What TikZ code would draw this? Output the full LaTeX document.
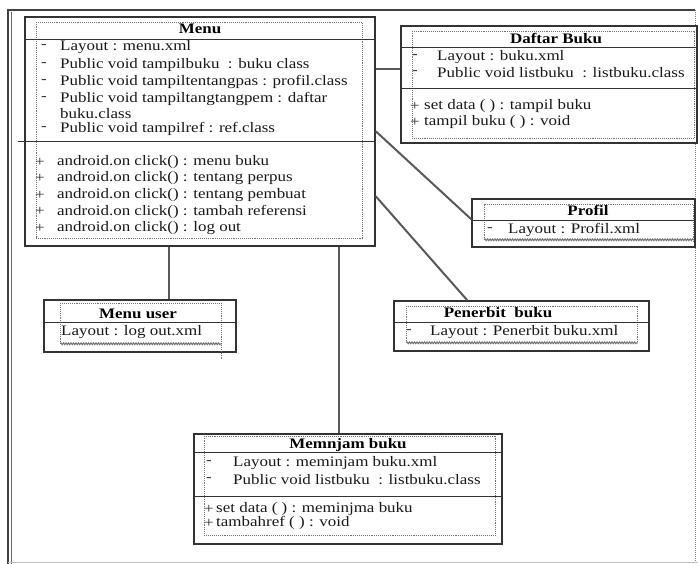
\documentclass[tikz,border=0pt]{standalone}
\usepackage{fontspec}
\setmainfont{Liberation Serif}[FakeStretch=1.17]
\usetikzlibrary{decorations.pathmorphing,calc}
\begin{document}
\begin{tikzpicture}[x=1pt,y=-1pt,
  box/.style={draw=black!80, line width=1.5pt, inner sep=0pt, fill=white},
  inner/.style={draw=black!55, densely dotted, line width=1.1pt},
  sep/.style={draw=black!80, line width=1.4pt},
  conn/.style={draw=black!65, line width=2pt},
  txt/.style={anchor=west, inner sep=0pt, font=\fontsize{14.5}{16}\selectfont, text=black!90},
  ttl/.style={anchor=center, inner sep=0pt, font=\fontsize{14.5}{16}\selectfont\bfseries, text=black},
  mk/.style={anchor=center, inner sep=0pt, font=\fontsize{14.5}{16}\selectfont, text=black!80},
  wavy/.style={draw=black!55, decorate, decoration={snake, amplitude=0.9pt, segment length=2.5pt}, line width=1pt}]

\useasboundingbox (0,0) rectangle (698,564);

% outer frame
\draw[black!75, line width=1.2pt] (8,564) -- (8,10) -- (695,10);
\draw[black!60, line width=1pt] (11,564) -- (11,12);
\draw[black!50, densely dotted, line width=1pt] (695,10) -- (695,564);
\draw[black!25, line width=0.8pt] (8,562) -- (698,562);

% boxes (positions)
\node[box, minimum width=350pt, minimum height=229pt] (menu) at (200,131.5) {};
\node[box, minimum width=296pt, minimum height=117pt] (daftar) at (549,84.5) {};
\node[box, minimum width=223pt, minimum height=48pt] (profil) at (583.5,223) {};
\node[box, minimum width=192pt, minimum height=52pt] (muser) at (140,326) {};
\node[box, minimum width=255pt, minimum height=50pt] (penerbit) at (521.5,326) {};
\node[box, minimum width=308pt, minimum height=110pt] (pinjam) at (348,489) {};

% connectors
\draw[conn] ($(menu.north east)+(0,53)$) -- ($(daftar.north west)+(0,44)$);
\draw[conn] ($(menu.north east)+(0,115)$) -- ($(profil.north west)+(0,21)$);
\draw[conn] ($(menu.north east)+(0,180)$) -- ($(penerbit.north west)+(74,0)$);
\draw[conn] ($(menu.south west)+(145,0)$) -- ($(muser.north west)+(126,0)$);
\draw[conn] ($(menu.south west)+(315,0)$) -- ($(pinjam.north west)+(146,0)$);

% ---- Menu
\draw[inner] ($(menu.north west)+(12,6)$) rectangle ($(menu.south east)+(-13,-8)$);
\draw[sep] ($(menu.north west)+(0,23)$) -- ($(menu.north east)+(0,23)$);
\draw[sep] ($(menu.north west)+(-6,125)$) -- ($(menu.north east)+(0,125)$);
\node[ttl] (menuT) at (200,29) {Menu};
\node[mk] (ma1) at (44,47) {-};
\node[txt] (ta1) at (60,47) {Layout : menu.xml};
\node[mk] (ma2) at (44,65) {-};
\node[txt] (ta2) at (60,65) {Public void tampilbuku \ : buku class};
\node[mk] (ma3) at (44,82) {-};
\node[txt] (ta3) at (60,82) {Public void tampiltentangpas : profil.class};
\node[mk] (ma4) at (44,99) {-};
\node[txt] (ta4) at (60,99) {Public void tampiltangtangpem : daftar};
\node[txt] (ta5) at (60,114) {buku.class};
\node[mk] (ma6) at (44,129) {-};
\node[txt] (ta6) at (60,129) {Public void tampilref : ref.class};
\node[mk] (mm1) at (40,162) {+};
\node[txt] (tm1) at (57,162) {android.on click() : menu buku};
\node[mk] (mm2) at (40,178.5) {+};
\node[txt] (tm2) at (57,178.5) {android.on click() : tentang perpus};
\node[mk] (mm3) at (40,195) {+};
\node[txt] (tm3) at (57,195) {android.on click() : tentang pembuat};
\node[mk] (mm4) at (40,211.5) {+};
\node[txt] (tm4) at (57,211.5) {android.on click() : tambah referensi};
\node[mk] (mm5) at (40,228) {+};
\node[txt] (tm5) at (57,228) {android.on click() : log out};

% ---- Daftar Buku
\draw[inner] ($(daftar.north west)+(12,6)$) rectangle ($(daftar.south east)+(-3,-5)$);
\draw[sep] ($(daftar.north west)+(0,22)$) -- ($(daftar.north east)+(0,22)$);
\draw[sep] ($(daftar.north west)+(0,63)$) -- ($(daftar.north east)+(0,63)$);
\node[ttl] (daftarT) at (556,38) {Daftar Buku};
\node[mk] (da1) at (415,57) {-};
\node[txt] (dt1) at (437,57) {Layout : buku.xml};
\node[mk] (da2) at (415,73) {-};
\node[txt] (dt2) at (437,73) {Public void listbuku \ : listbuku.class};
\node[mk] (dm1) at (415,106) {+};
\node[txt] (dt3) at (424,106) {set data ( ) : tampil buku};
\node[mk] (dm2) at (415,122) {+};
\node[txt] (dt4) at (424,122) {tampil buku ( ) : void};

% ---- Profil
\draw[inner] ($(profil.south west)+(13,-8)$) -- ($(profil.north west)+(13,6)$) -- ($(profil.north east)+(-2,6)$) -- ($(profil.south east)+(-2,-6)$);
\draw[wavy] ($(profil.south west)+(13,-8)$) -- ($(profil.south east)+(-2,-8)$);
\draw[sep] ($(profil.north west)+(0,22)$) -- ($(profil.north east)+(0,22)$);
\node[ttl] (profilT) at (588,210) {Profil};
\node[mk] (pa1) at (490,230) {-};
\node[txt] (pt1) at (508,230) {Layout : Profil.xml};

% ---- Menu user
\draw[inner] ($(muser.south west)+(17,-9)$) -- ($(muser.north west)+(17,4)$) -- ($(muser.north east)+(-15,4)$) -- ($(muser.south east)+(-15,6)$);
\draw[wavy] ($(muser.south west)+(17,-9)$) -- ($(muser.south east)+(-15,-9)$);
\draw[sep] ($(muser.north west)+(0,23)$) -- ($(muser.north east)+(0,23)$);
\node[ttl] (muserT) at (138,314) {Menu user};
\node[txt] (ut1) at (61,332) {Layout : log out.xml};

% ---- Penerbit buku
\draw[inner] ($(penerbit.south west)+(13,-9)$) -- ($(penerbit.north west)+(13,6)$) -- ($(penerbit.north east)+(-12,6)$) -- ($(penerbit.south east)+(-12,-9)$);
\draw[wavy] ($(penerbit.south west)+(13,-9)$) -- ($(penerbit.south east)+(-12,-9)$);
\draw[sep] ($(penerbit.north west)+(0,22)$) -- ($(penerbit.north east)+(0,22)$);
\node[ttl] (penerbitT) at (498,313) {Penerbit \ buku};
\node[mk] (na1) at (409,332) {-};
\node[txt] (nt1) at (430,332) {Layout : Penerbit buku.xml};

% ---- Memnjam buku
\draw[inner] ($(pinjam.north west)+(11,3)$) rectangle ($(pinjam.south east)+(-7,-9)$);
\draw[sep] ($(pinjam.north west)+(0,19)$) -- ($(pinjam.north east)+(0,19)$);
\draw[sep] ($(pinjam.north west)+(0,63)$) -- ($(pinjam.north east)+(0,63)$);
\node[ttl] (pinjamT) at (348,445) {Memnjam buku};
\node[mk] (ja1) at (209,463) {-};
\node[txt] (jt1) at (233,463) {Layout : meminjam buku.xml};
\node[mk] (ja2) at (209,480) {-};
\node[txt] (jt2) at (233,480) {Public void listbuku \ : listbuku.class};
\node[mk] (jm1) at (209,509) {+};
\node[txt] (jt3) at (216,509) {set data ( ) : meminjma buku};
\node[mk] (jm2) at (209,523) {+};
\node[txt] (jt4) at (216,523) {tambahref ( ) : void};
\end{tikzpicture}
\end{document}
